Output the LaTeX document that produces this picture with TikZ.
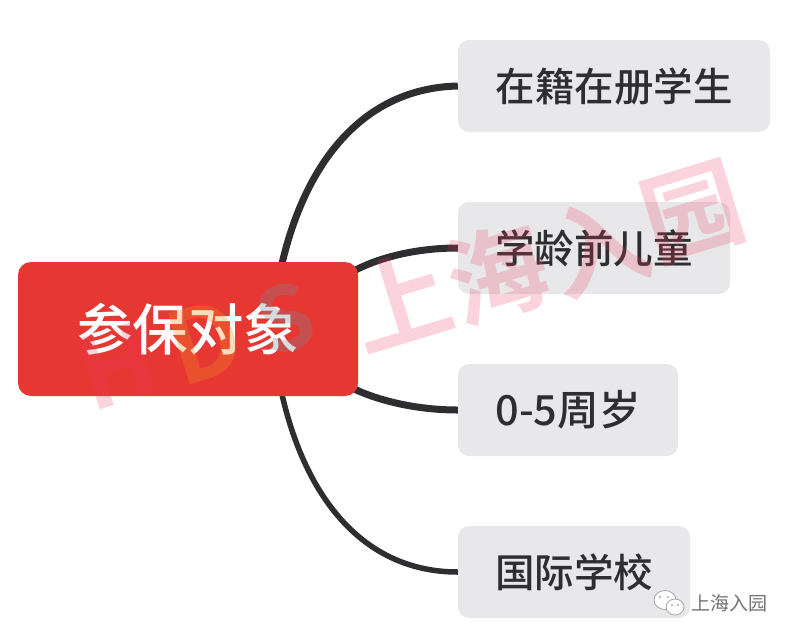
\documentclass[tikz,border=0pt]{standalone}
\usepackage{fontspec}
\setmainfont{Noto Sans CJK SC}
\newfontfamily\cjkmed{Noto Sans CJK SC Medium}
\newfontfamily\cjkbold{Noto Sans CJK SC Bold}
\usetikzlibrary{backgrounds}
\definecolor{rootred}{HTML}{E63733}
\definecolor{leafgrey}{HTML}{E8E8EA}
\definecolor{inkdark}{HTML}{2E2E30}
\definecolor{wmpink}{HTML}{F03A60}
\definecolor{wmorange}{HTML}{F08A20}
\definecolor{wmgrey}{HTML}{7A8A90}
\tikzset{
  x=1pt,y=-1pt,
  rootbox/.style={fill=rootred,rounded corners=13pt,text=white,minimum width=340pt,minimum height=134pt,inner sep=0pt,font=\cjkmed\fontsize{55.5}{56}\selectfont},
  leafbox/.style={fill=leafgrey,rounded corners=11pt,text=inkdark,minimum height=92pt,inner sep=0pt,font=\cjkmed\fontsize{39.5}{40}\selectfont},
  branch/.style={draw=inkdark,line width=7pt},
  thinbranch/.style={draw=inkdark,line width=5.5pt},
  watermark/.style={inner sep=0pt,rotate=17,opacity=0.22,text=wmpink,font=\cjkbold\fontsize{100}{100}\selectfont},
  bubble/.style={draw=gray!70,fill=white,line width=0.8pt},
}
\begin{document}
\begin{tikzpicture}
\useasboundingbox (0,0) rectangle (792,638);
\node[rootbox] (root) at (188,329) {参保对象};
\node[leafbox,minimum width=312pt] (l1) at (614,86) {在籍在册学生};
\node[leafbox,minimum width=272pt] (l2) at (594,248) {学龄前儿童};
\node[leafbox,minimum width=220pt] (l3) at (568,410) {\fontsize{41.5}{42}\selectfont 0-5周岁};
\node[leafbox,minimum width=232pt] (l4) at (574,572) {国际学校};
\begin{scope}[on background layer]
\fill[white] (0,0) rectangle (792,638);
\draw[branch] (281,268) .. controls (305,160) and (365,88) .. (l1.west);
\draw[branch] (350,273) .. controls (380,256) and (420,248) .. (l2.west);
\draw[branch] (350,387) .. controls (380,402) and (420,410) .. (l3.west);
\draw[thinbranch] (281,390) .. controls (305,500) and (365,572) .. (l4.west);
\end{scope}
\node[watermark] (wmh) at (117,366) {H};
\node[watermark,text=wmorange,opacity=0.3] (wmd) at (205,342) {D};
\node[watermark,text=wmgrey,opacity=0.3,font=\cjkbold\fontsize{88}{88}\selectfont] (wms) at (285,318) {S};
\node[watermark] (wm1) at (400,300) {上};
\node[watermark] (wm2) at (497,273) {海};
\node[watermark] (wm3) at (598,246) {入};
\node[watermark] (wm4) at (693,212) {园};
\node[inner sep=0pt,text=gray!90!black,font=\fontsize{19}{19}\selectfont] (brand) at (729,603) {上海入园};
\draw[bubble] (665,600) ellipse (11 and 9.5);
\draw[bubble] (675,607) ellipse (9 and 8);
\fill[gray] (660,597) circle (0.8) (668,597) circle (0.8) (672,605) circle (0.8) (678,605) circle (0.8);
\end{tikzpicture}
\end{document}
